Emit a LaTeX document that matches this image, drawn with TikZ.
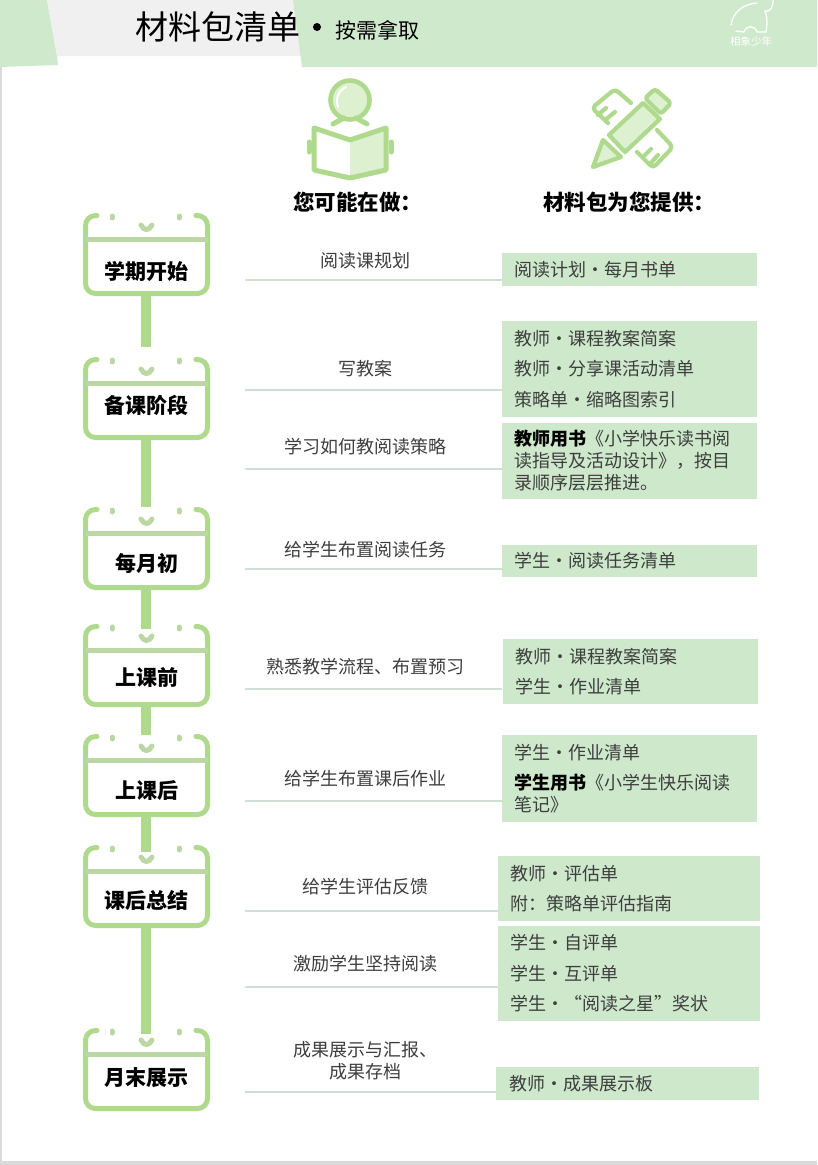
\documentclass[tikz,border=0pt]{standalone}
\usepackage{fontspec}
\setmainfont{Noto Sans CJK SC}
\usetikzlibrary{calc, positioning}
\definecolor{bandgreen}{HTML}{CFE9CC}
\definecolor{bandgray}{HTML}{F0F0F0}
\definecolor{boxgreen}{HTML}{CDE8CB}
\definecolor{calgreen}{HTML}{AFD98C}
\definecolor{tabgreen}{HTML}{BBD8A4}
\definecolor{iconfill}{HTML}{DDF0CF}
\definecolor{rulegray}{HTML}{CFE0D3}
\definecolor{edgegray}{HTML}{DADADA}
\definecolor{bodytext}{HTML}{3E3E3E}
\newcommand{\fs}[1]{\fontsize{#1}{22}\selectfont}
\newcommand{\bk}[1]{\textcolor{black}{\textbf{#1}}}
\tikzset{
  % calendario a sinistra
  calbox/.style={minimum width=127, minimum height=83, inner sep=0pt},
  calline/.style={line width=5pt, calgreen, line cap=round},
  caltxt/.style={font=\fs{21}\bfseries, inner sep=0pt},
  tabdot/.style={line width=5pt, tabgreen, line cap=round},
  flow/.style={line width=9.5pt, calgreen},
  % colonna centrale
  dolbl/.style={font=\fs{18}, text=bodytext, align=center, inner sep=0pt},
  hrule/.style={line width=1.4pt, rulegray},
  % colonna destra
  getbox/.style={fill=boxgreen, font=\fs{18}, text=bodytext, align=left,
    inner xsep=12.5pt, inner ysep=0pt, minimum width=255, text width=230},
  widebox/.style={getbox, minimum width=262, text width=237},
  headlbl/.style={font=\fs{21.5}\bfseries, inner sep=0pt, anchor=west},
  icon/.style={line width=4.2pt, calgreen, line join=round, line cap=round},
}
\begin{document}
\begin{tikzpicture}[x=1pt, y=-1pt]
  \useasboundingbox (0,0) rectangle (817,1165);
  \fill[white] (0,0) rectangle (817,1165);
  \fill[edgegray] (0,0) rectangle (1.5,1165);
  \fill[edgegray] (0,1161) rectangle (817,1165);
  % testata
  \fill[bandgreen] (0,0) -- (47,0) -- (57,56) -- (58,65) -- (0,67) -- cycle;
  \fill[bandgray] (47,0) -- (293,0) -- (301,56) -- (57,56) -- cycle;
  \fill[bandgreen] (293,0) -- (817,0) -- (817,67) -- (302,67) -- cycle;
  \node[font=\fs{33}, anchor=west, inner sep=0pt] (title) at (135,27) {材料包清单};
  \node[circle, fill=black, inner sep=0pt, minimum size=8] (titledot) at (317,27) {};
  \node[font=\fs{21}, anchor=west, inner sep=0pt] (subtitle) at (335,30) {按需拿取};
  \draw[white, line width=1.3pt, line cap=round]
    (731,25) .. controls (733,12) and (743,4) .. (757,3)
    (773,0) .. controls (773,8) and (770,12) .. (765,11)
    .. controls (768,19) and (767,26) .. (766,32) -- (757,32)
    .. controls (755,25) and (746,25) .. (744,32) -- (736,31);
  \node[font=\fs{10.5}, text=white, inner sep=0pt] (logo) at (751,41) {相象少年};
  % icona lettore
  \draw[icon, line width=4.6pt, fill=iconfill] (350,100) circle[radius=19.5];
  \draw[white, line width=2pt, line cap=round] (338,107) .. controls (335,98) and (339,90) .. (346,87);
  \draw[icon, line width=5pt] (333,124) -- (344,118) (367,124) -- (356,118);
  \fill[white] (314,128) -- (350,140) -- (350,178) -- (314,170) -- cycle;
  \fill[iconfill] (350,140) -- (386,128) -- (386,170) -- (350,178) -- cycle;
  \draw[icon, line width=5pt] (314,128) -- (350,140) -- (386,128) -- (386,170) -- (350,178) -- (314,170) -- cycle;
  \draw[icon, line width=5pt] (309,142) -- (309,152) (391,142) -- (391,152);
  % icona matita
  \draw[icon, fill=iconfill] (609,135) -- (643,103) -- (660,119) -- (625,152) -- cycle;
  \draw[icon, fill=iconfill, rounded corners=3pt] (645,98) -- (655,89) -- (671,103) -- (661,114) -- cycle;
  \draw[icon, fill=iconfill] (603,140) -- (621,157) -- (593,167) -- cycle;
  \draw[icon, rounded corners=4pt] (631,103) -- (615,89) -- (592,108) -- (608,123);
  \draw[icon] (598,115) -- (606,108) (605,120) -- (615,112);
  \draw[icon, rounded corners=4pt] (657,130) -- (673,147) -- (653,168) -- (637,152);
  \draw[icon] (643,157) -- (651,149) (650,164) -- (658,155);
  \node[headlbl] (headdo) at (293,202) {您可能在做：};
  \node[headlbl] (headget) at (543,202) {材料包为您提供：};
  % calendari
  \foreach \n/\t/\y/\lab in {cal1/213/271/学期开始, cal2/357/405/备课阶段, cal3/507/563/每月初,
    cal4/624/677/上课前, cal5/734/791/上课后, cal6/845/900/课后总结, cal7/1028/1078/月末展示} {
    \node[calbox] (\n) at (146.5,\t+41.5) {};
    \begin{scope}[shift={(0,\t)}]
      \draw[calline, rounded corners=10pt] (97,2.5) -- (85.5,2.5) -- (85.5,80.5) -- (207.5,80.5) -- (207.5,2.5) -- (196,2.5);
      \draw[calline, tabgreen, line cap=butt] (85.5,26) -- (207.5,26);
      \draw[tabdot] (112,3) -- (112,5) (179,3) -- (179,5);
      \draw[tabdot] (141,12) .. controls (144,18) and (149,18) .. (152,12);
    \end{scope}
    \node[caltxt] (\n txt) at (146.5,\y) {\lab};
  }
  \foreach \a/\b/\e in {cal1/cal2/347, cal2/cal3/507, cal3/cal4/629, cal4/cal5/735, cal5/cal6/852, cal6/cal7/1034} {
    \coordinate (\b end) at (146,\e);
    \draw[flow] (\a.south -| \b end) -- (\b end);
  }
  % materiali
  \node[getbox, minimum height=33] (get1) at (629.5,269.5) {阅读计划•每月书单};
  \node[getbox, minimum height=96] (get2) at (629.5,369) {教师•课程教案简案\\[8.5pt]教师•分享课活动清单\\[8.5pt]策略单•缩略图索引};
  \node[getbox, minimum height=76] (get3) at (629.5,461) {\bk{教师用书}《小学快乐读书阅\\读指导及活动设计》，按目\\录顺序层层推进。};
  \node[getbox, minimum height=32] (get4) at (629.5,561) {学生•阅读任务清单};
  \node[getbox, minimum height=65] (get5) at (630,671.5) {教师•课程教案简案\\[8.5pt]学生•作业清单};
  \node[getbox, minimum height=87] (get6) at (629.5,778.5) {学生•作业清单\\[8.5pt]\bk{学生用书}《小学生快乐阅读\\笔记》};
  \node[widebox, minimum height=65] (get7) at (629,888.5) {教师•评估单\\[8.5pt]附：策略单评估指南};
  \node[widebox, minimum height=95] (get8) at (629,973.5) {学生•自评单\\[8.5pt]学生•互评单\\[8.5pt]学生•“阅读之星”奖状};
  \node[widebox, minimum height=33, minimum width=263] (get9) at (627.5,1083.5) {教师•成果展示板};
  % attivita e filetti
  \foreach \i/\y/\ty/\lab in {1/280/261/阅读课规划, 2/390/369/写教案, 3/469/447/学习如何教阅读策略,
    4/569/550/给学生布置阅读任务, 5/689/667/熟悉教学流程、布置预习, 6/801/779/给学生布置课后作业,
    7/911/887/给学生评估反馈, 8/987/964/激励学生坚持阅读, 9/1092/1061/{成果展示与汇报、\\成果存档}} {
    \node[dolbl] (do\i) at (365,\ty) {\lab};
    \coordinate (rule\i) at (245,\y);
    \draw[hrule] (rule\i) -- (rule\i -| get\i.west);
  }
\end{tikzpicture}
\end{document}
